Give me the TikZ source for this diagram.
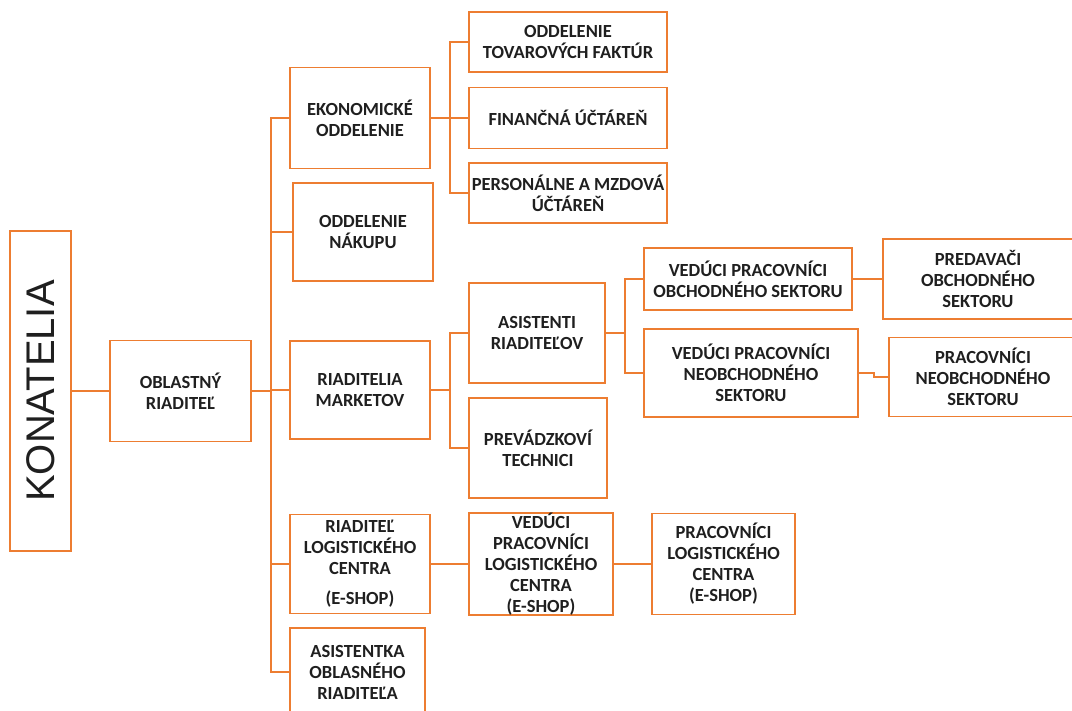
\documentclass[tikz,border=0pt]{standalone}
\usepackage{fontspec}
\setmainfont{Carlito}
\newfontfamily\konfont{Liberation Sans}
\usetikzlibrary{positioning, calc}
\definecolor{orng}{HTML}{ED7D31}

\begin{document}
\begin{tikzpicture}[x=1pt,y=-1pt,
  box/.style={draw=orng,line width=1.8pt,align=center,inner sep=0pt,text=black!88,
              font=\fontsize{18.5}{21}\selectfont\bfseries},
  link/.style={draw=orng,line width=1.8pt}]
\useasboundingbox (0,0) rectangle (1072,711);

% vedenie
\path (40.5,391) node[box,minimum width=61,minimum height=320](kon){\rotatebox{90}{\konfont\mdseries\fontsize{40}{40}\selectfont KONATELIA}}
      (180.5,391) node[box,minimum width=141,minimum height=101](obl){OBLASTNÝ\\RIADITEĽ};

% prva uroven
\path (360,118)   node[box,minimum width=140,minimum height=101](eko){EKONOMICKÉ\\ODDELENIE}
      (363,232)   node[box,minimum width=140,minimum height=98](nak){ODDELENIE\\NÁKUPU}
      (360,390)   node[box,minimum width=140,minimum height=98](mkt){RIADITELIA\\MARKETOV}
      (360,564)   node[box,minimum width=140,minimum height=99](rlog){RIADITEĽ\\LOGISTICKÉHO\\CENTRA\\[9pt](E-SHOP)}
      (357.5,672) node[box,minimum width=135,minimum height=88](asista){ASISTENTKA\\OBLASNÉHO\\RIADITEĽA};

% ekonomicke oddelenie
\path (568,42)  node[box,minimum width=198,minimum height=60](tov){ODDELENIE\\TOVAROVÝCH FAKTÚR}
      (568,118) node[box,minimum width=198,minimum height=61](fin){FINANČNÁ ÚČTÁREŇ}
      (568,193) node[box,minimum width=198,minimum height=60](pers){PERSONÁLNE A MZDOVÁ\\ÚČTÁREŇ};

% marketing
\path (537,333) node[box,minimum width=136,minimum height=100](asi){ASISTENTI\\RIADITEĽOV}
      (538,448) node[box,minimum width=138,minimum height=100](prev){PREVÁDZKOVÍ\\TECHNICI}
      (748,279) node[box,minimum width=208,minimum height=62](vobch){VEDÚCI PRACOVNÍCI\\OBCHODNÉHO SEKTORU}
      (751,373) node[box,minimum width=214,minimum height=88](vneo){VEDÚCI PRACOVNÍCI\\NEOBCHODNÉHO\\SEKTORU}
      (978,279) node[box,minimum width=190,minimum height=80](pred){PREDAVAČI\\OBCHODNÉHO\\SEKTORU}
      (983,377) node[box,minimum width=188,minimum height=79](pneo){PRACOVNÍCI\\NEOBCHODNÉHO\\SEKTORU};

% logistika
\path (541,564)   node[box,minimum width=144,minimum height=102](vlog){VEDÚCI\\PRACOVNÍCI\\LOGISTICKÉHO\\CENTRA\\(E-SHOP)}
      (723.5,564) node[box,minimum width=143,minimum height=101](plog){PRACOVNÍCI\\LOGISTICKÉHO\\CENTRA\\(E-SHOP)};

% spojenia
\coordinate (trunk) at (271,391);
\draw[link] (kon.east) -- (kon.east -| obl.west);
\draw[link] (obl.east) -- (trunk);
\draw[link] (trunk) |- (eko.west);
\draw[link] (trunk) |- (nak.west);
\draw[link] (trunk) |- (mkt.west);
\draw[link] (trunk) |- (rlog.west);
\draw[link] (trunk) |- (asista.west);

\draw[link] (eko.east) -- ++(19,0) coordinate (ekoj);
\draw[link] (ekoj) |- (tov.west);
\draw[link] (ekoj) |- (fin.west);
\draw[link] (ekoj) |- (pers.west);

\draw[link] (mkt.east) -- ++(19,0) coordinate (mktj);
\draw[link] (mktj) |- (asi.west);
\draw[link] (mktj) |- (prev.west);

\draw[link] (asi.east) -- ++(19,0) coordinate (asij);
\draw[link] (asij) |- (vobch.west);
\draw[link] (asij) |- (vneo.west);
\draw[link] (vobch.east) -- (vobch.east -| pred.west);
\draw[link] (vneo.east) -- ++(15,0) |- (pneo.west);

\draw[link] (rlog.east) -- (rlog.east -| vlog.west);
\draw[link] (vlog.east) -- (vlog.east -| plog.west);
\end{tikzpicture}
\end{document}
